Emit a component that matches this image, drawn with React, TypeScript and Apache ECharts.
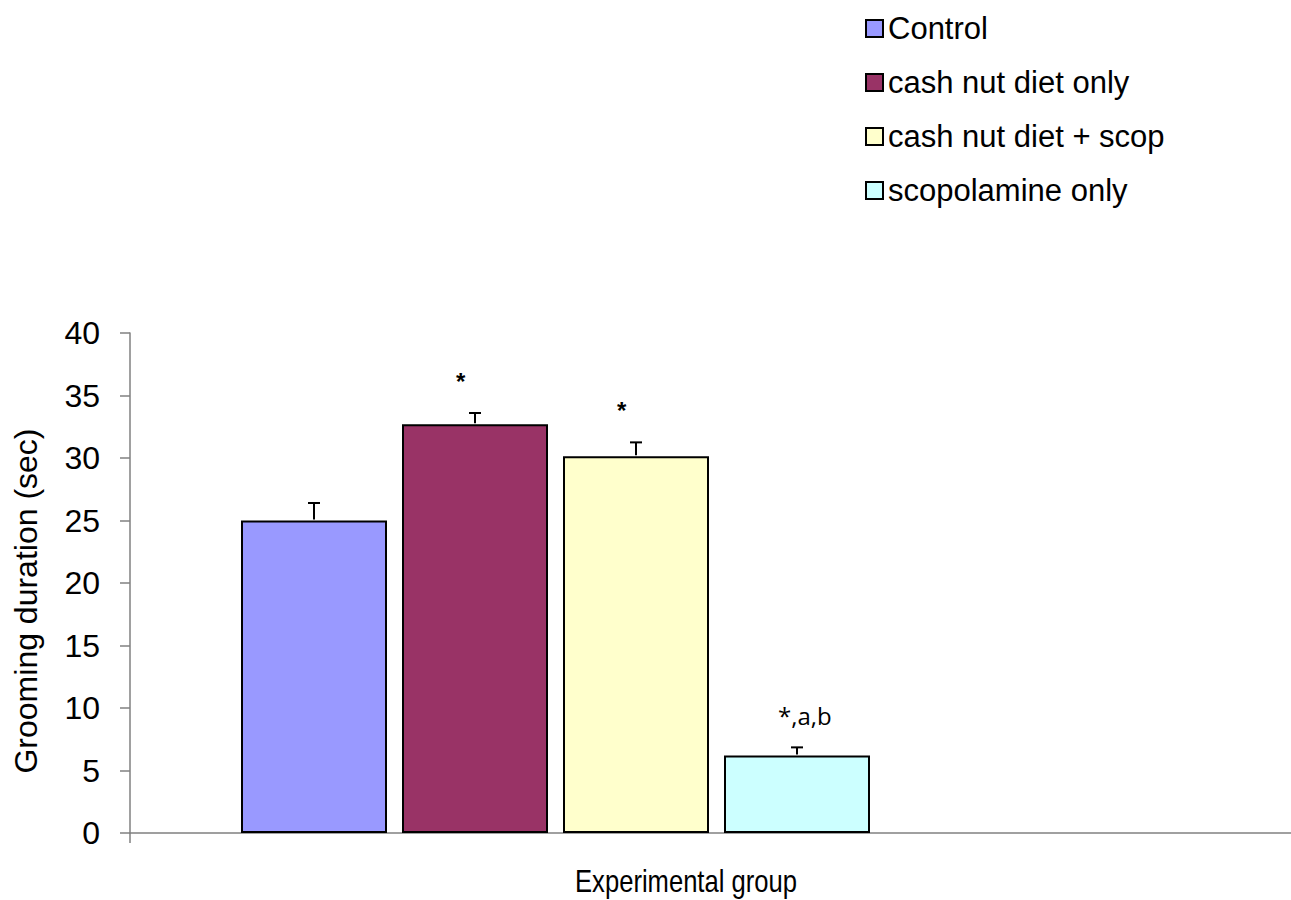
import React, { useEffect, useRef } from "react";
import * as echarts from "echarts";

const groups = ["Control", "cash nut diet only", "cash nut diet + scop", "scopolamine only"];
const means = [25.0, 32.7, 30.15, 6.2];
const errors = [1.4, 0.9, 1.1, 0.65];
const annotations = ["", "*", "*", "*,a,b"];
const colors = ["#9999FF", "#993366", "#FFFFCC", "#CCFFFF"];
const yTicks = { min: 0, max: 40, interval: 5 };
const xTitle = "Experimental group";
const yTitle = "Grooming duration (sec)";

const FONT = "'Liberation Sans', Arial, sans-serif";

export default function App() {
  const ref = useRef<HTMLDivElement>(null);
  useEffect(() => {
    if (!ref.current) return;
    const chart = echarts.init(ref.current, null, { renderer: "svg" });
    const barSeries = groups.map((g, i) => ({
      name: g,
      type: "bar",
      xAxisIndex: 1,
      yAxisIndex: 1,
      stack: "all",
      barWidth: 146,
      data: means.map((v, j) => (j === i ? v : "-")),
      itemStyle: { color: colors[i], borderColor: "#000", borderWidth: 2 },
    }));
    const option: any = {
      animation: false,
      backgroundColor: "#fff",
      textStyle: { fontFamily: FONT },
      graphic: [
        {
          type: "text",
          x: 686,
          y: 881,
          scaleX: 0.8,
          scaleY: 1,
          style: {
            text: xTitle,
            x: 0,
            y: 0,
            textAlign: "center",
            textVerticalAlign: "middle",
            fontFamily: FONT,
            fontSize: 32,
            fill: "#000",
          },
        },
      ],
      legend: {
        orient: "vertical",
        left: 860,
        top: 8,
        itemWidth: 17,
        itemHeight: 17,
        itemGap: 23,
        icon: "rect",
        data: groups,
        textStyle: { fontFamily: FONT, fontSize: 31, color: "#000", lineHeight: 31, padding: [0, 0, 0, 0] },
      },
      grid: [
        { left: 130, top: 333, width: 1161, height: 500 },
        { left: 233.5, top: 333, width: 644, height: 500 },
      ],
      xAxis: [
        {
          type: "value",
          gridIndex: 0,
          min: 0,
          max: 1,
          interval: 1,
          axisLine: { show: true, onZero: false, lineStyle: { color: "#808080", width: 1.5 } },
          axisTick: { show: true, length: 10, customValues: [0], lineStyle: { color: "#808080", width: 1.5 } },
          axisLabel: { show: false },
          splitLine: { show: false },
        },
        {
          type: "category",
          gridIndex: 1,
          data: groups,
          show: false,
        },
      ],
      yAxis: [
        {
          type: "value",
          gridIndex: 0,
          min: yTicks.min,
          max: yTicks.max,
          interval: yTicks.interval,
          name: yTitle,
          nameLocation: "middle",
          nameGap: 88,
          nameTextStyle: { fontFamily: FONT, fontSize: 32, color: "#000", padding: [0, 36, 0, 0] },
          axisLine: { show: true, lineStyle: { color: "#808080", width: 1.5 } },
          axisTick: { show: true, length: 10, lineStyle: { color: "#808080", width: 1.5 } },
          axisLabel: { fontFamily: FONT, fontSize: 32, color: "#000", margin: 30 },
          splitLine: { show: false },
        },
        {
          type: "value",
          gridIndex: 1,
          min: yTicks.min,
          max: yTicks.max,
          interval: yTicks.interval,
          show: false,
          splitLine: { show: false },
        },
      ],
      series: [
        ...barSeries,
        {
          type: "custom",
          xAxisIndex: 1,
          yAxisIndex: 1,
          z: 5,
          data: means.map((m, i) => [i, m, errors[i]]),
          renderItem: (params: any, api: any) => {
            const idx = api.value(0);
            const m = api.value(1);
            const e = api.value(2);
            const base = api.coord([idx, m]);
            const top = api.coord([idx, m + e]);
            const x = base[0];
            const hw = 6;
            const note = annotations[idx];
            const long = note.length > 1;
            const children: any[] = [
              { type: "line", shape: { x1: x, y1: base[1] - 1, x2: x, y2: top[1] }, style: { stroke: "#000", lineWidth: 2 } },
              { type: "line", shape: { x1: x - hw, y1: top[1], x2: x + hw, y2: top[1] }, style: { stroke: "#000", lineWidth: 2 } },
            ];
            if (note) {
              children.push({
                type: "text",
                style: {
                  text: note,
                  x: x - 19,
                  y: top[1] - 20,
                  textAlign: "left",
                  textVerticalAlign: "bottom",
                  fontFamily: long ? "'Open Sans', 'DejaVu Sans', sans-serif" : FONT,
                  fontSize: 24,
                  fontWeight: long ? "normal" : "bold",
                  fill: "#000",
                },
              });
            }
            return { type: "group", children };
          },
        },
      ],
    };
    chart.setOption(option);
    return () => chart.dispose();
  }, []);
  return (
    <div
      ref={ref}
      style={{ position: "fixed", left: 0, top: 0, width: 1291, height: 900, background: "#fff" }}
    />
  );
}
